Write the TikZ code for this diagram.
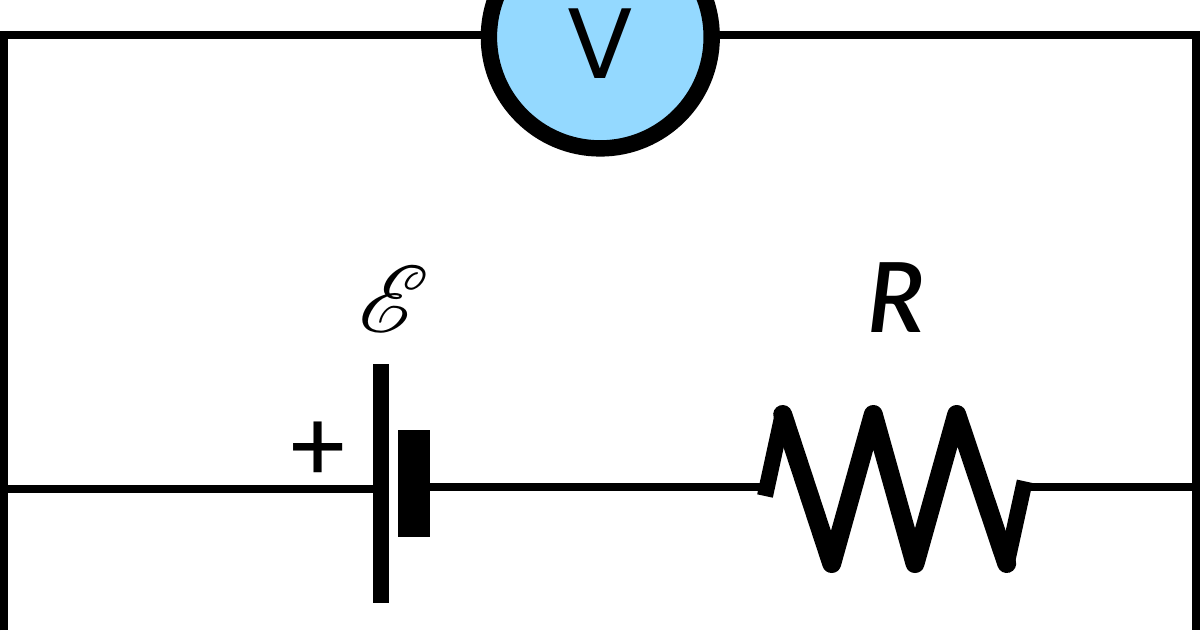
\documentclass[tikz,border=0pt]{standalone}
\usepackage{fontspec}
\usepackage{mathrsfs}
\setmainfont{Lato}
\newfontfamily\vfont{Poppins}
\newfontfamily\rfont{Lato Semibold}
\newfontfamily\pfont{Lato Medium}
\tikzset{
  wire/.style={line width=8pt,draw=black},
  plate/.style={fill=black,draw=none,inner sep=0pt,outer sep=0pt},
  zigzag/.style={line width=19pt,draw=black,line join=round,line cap=round},
  zigstub/.style={line width=16pt,draw=black},
  meter/.style={circle,draw=black,fill=meterblue,line width=16.4pt,minimum size=222.8pt,inner sep=0pt,outer sep=0pt},
  txt/.style={inner sep=0pt,outer sep=0pt,text=black}
}
\definecolor{meterblue}{HTML}{94D9FF}
\begin{document}
\begin{tikzpicture}[x=1pt,y=-1pt]
\useasboundingbox (0,0) rectangle (1200,630);
\fill[white] (0,0) rectangle (1200,630);
% named points
\coordinate (lb) at (4,630);
\coordinate (lt) at (4,34.5);
\coordinate (rt) at (1196,34.5);
\coordinate (rb) at (1196,630);
\coordinate (lj) at (4,488.7);
\coordinate (rj) at (1196,487);
\coordinate (rs) at (765,496);
\coordinate (re) at (1024.7,481.3);
\coordinate (ri) at (765,486.8);
\coordinate (ro) at (1026,487);
\coordinate (p1) at (782.7,414.5);
\coordinate (v1) at (831.7,563.5);
\coordinate (p2) at (873.3,414.5);
\coordinate (v2) at (915,563.5);
\coordinate (p3) at (956.7,414.5);
\coordinate (v3) at (1006.7,563.5);
% loop wire
\draw[wire] (lb) -- (lt) -- (rt) -- (rb);
% voltmeter
\node[meter] (vm) at (600.3,37) {};
\begin{scope}
\clip (560,5) rectangle (640,100);
\node[txt,anchor=base] (vl) at (600,78) {\fontsize{100pt}{100pt}\selectfont\vfont V};
\end{scope}
% battery
\node[plate,minimum width=16.6pt,minimum height=239.3pt] (bl) at (381,483.6) {};
\node[plate,minimum width=32.6pt,minimum height=107pt] (bs) at (414,483.5) {};
\draw[wire] (lj) -- (lj -| bl.west);
\draw[wire] (bs.east |- ri) -- (ri);
% plus
\node[txt,anchor=base] (pl) at (318,481) {\fontsize{102pt}{102pt}\selectfont\pfont +};
% resistor
\draw[zigstub] (rs) -- (p1);
\draw[zigstub] (v3) -- (re);
\draw[zigzag] (p1) -- (v1) -- (p2) -- (v2) -- (p3) -- (v3);
\draw[wire] (ro) -- (rj);
% labels
\node[txt,anchor=base,scale=9.5] (emf) at (394,332) {$\mathscr{E}$};
\node[txt,anchor=base] (rl) at (896,332) {\fontsize{97pt}{97pt}\selectfont\rfont\itshape R};
\end{tikzpicture}
\end{document}
